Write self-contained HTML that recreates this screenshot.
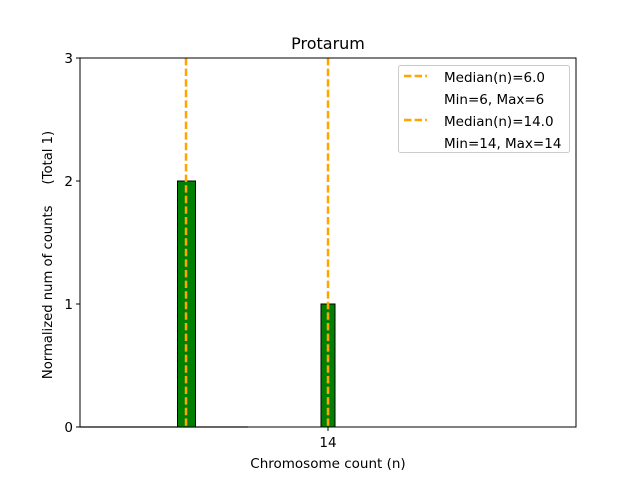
<!DOCTYPE html>
<html><head><meta charset="utf-8"><style>body{margin:0;background:#fff}</style></head><body>
<svg width="640" height="480" xmlns="http://www.w3.org/2000/svg" font-family="DejaVu Sans, Liberation Sans, sans-serif">
<rect width="640" height="480" fill="#fff"/>
<text x="328" y="49" font-size="16" text-anchor="middle">Protarum</text>
<line x1="80" y1="427" x2="248" y2="427" stroke="#999" stroke-width="1.5"/>
<rect x="177.5" y="181" width="18" height="246" fill="#008000" stroke="#000" stroke-width="1"/>
<rect x="321" y="304" width="14" height="123" fill="#008000" stroke="#000" stroke-width="1"/>
<line x1="186" y1="58" x2="186" y2="427" stroke="#ffa500" stroke-width="2.5" stroke-dasharray="7.4,3.2"/>
<line x1="328" y1="58" x2="328" y2="427" stroke="#ffa500" stroke-width="2.5" stroke-dasharray="7.4,3.2"/>
<rect x="80" y="58" width="496" height="369" fill="none" stroke="#000" stroke-width="1"/>
<g font-size="13.5" text-anchor="end">
<line x1="76" y1="427" x2="80" y2="427" stroke="#000"/><text x="73" y="432">0</text>
<line x1="76" y1="304" x2="80" y2="304" stroke="#000"/><text x="73" y="309">1</text>
<line x1="76" y1="181" x2="80" y2="181" stroke="#000"/><text x="73" y="186">2</text>
<line x1="76" y1="58" x2="80" y2="58" stroke="#000"/><text x="73" y="63">3</text>
</g>
<line x1="328" y1="427" x2="328" y2="431" stroke="#000"/>
<text x="328" y="447" font-size="13.5" text-anchor="middle">14</text>
<text x="328" y="468" font-size="13.5" text-anchor="middle">Chromosome count (n)</text>
<text transform="translate(52,255) rotate(-90)" font-size="13.2" text-anchor="middle" style="white-space:pre" xml:space="preserve">Normalized num of counts     (Total 1)</text>
<rect x="398.5" y="65.5" width="171" height="87" rx="2" fill="#fff" fill-opacity="0.8" stroke="#ccc"/>
<g font-size="13.5">
<line x1="404" y1="76" x2="427" y2="76" stroke="#ffa500" stroke-width="2.5" stroke-dasharray="7.4,3.2"/>
<text x="444" y="82">Median(n)=6.0</text>
<text x="444" y="104">Min=6, Max=6</text>
<line x1="404" y1="120" x2="427" y2="120" stroke="#ffa500" stroke-width="2.5" stroke-dasharray="7.4,3.2"/>
<text x="444" y="126">Median(n)=14.0</text>
<text x="444" y="148">Min=14, Max=14</text>
</g>
</svg>
</body></html>
